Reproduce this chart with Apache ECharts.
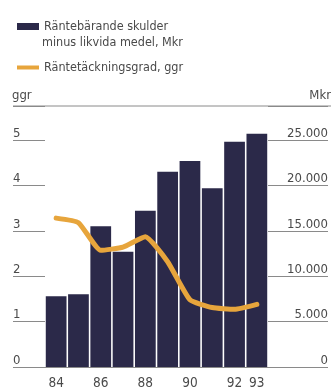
<!DOCTYPE html>
<html>
<head>
<meta charset="utf-8">
<script src="https://cdn.jsdelivr.net/npm/echarts@6/dist/echarts.min.js"></script>
<style>
  html, body { margin: 0; padding: 0; background: #ffffff; }
  #chart { width: 331px; height: 390px; }
</style>
</head>
<body>
<div id="chart"></div>
<script>
// Years on the category axis and the labels printed under them
var years = ['84', '85', '86', '87', '88', '89', '90', '91', '92', '93'];
var yearLabels = ['84', '', '86', '', '88', '', '90', '', '92', '93'];

// Net interest-bearing debt, Mkr (bars, right axis)
var nettoskuld = [7800, 8000, 15500, 12700, 17200, 21500, 22700, 19700, 24800, 25700];

// Interest coverage ratio, times (line, left axis)
var tackningsgrad = [3.28, 3.18, 2.57, 2.64, 2.87, 2.32, 1.48, 1.31, 1.27, 1.38];

// Axis tick values
var ggrTicks = [0, 1, 2, 3, 4, 5];
var mkrTicks = [0, 5000, 10000, 15000, 20000, 25000];

var barName = 'Räntebärande skulder';
var barNameLine2 = 'minus likvida medel, Mkr';
var lineName = 'Räntetäckningsgrad, ggr';

var FONT = "'DejaVu Sans Condensed', 'Liberation Sans Narrow', 'Roboto', sans-serif";
var TEXT = '#4a4a4a';
var RULE = '#8a8a8a';
var BAR = '#2b2949';
var LINE = '#e7a53c';

function thousands(v) {
  return String(v).replace(/\B(?=(\d{3})+(?!\d))/g, '.');
}

var chart = echarts.init(document.getElementById('chart'), null, { renderer: 'canvas' });

chart.setOption({
  backgroundColor: '#ffffff',
  animation: false,
  textStyle: { fontFamily: FONT },
  legend: {
    orient: 'vertical',
    left: 12,
    top: 15,
    itemWidth: 22,
    itemHeight: 7,
    itemGap: 28,
    symbolKeepAspect: true,
    selectedMode: false,
    textStyle: { fontFamily: FONT, fontSize: 12.5, color: TEXT },
    data: [
      { name: barName, icon: 'rect', itemStyle: { color: BAR } },
      { name: lineName, icon: 'path://M0,0 H22 V4 H0 Z', itemStyle: { color: LINE } }
    ]
  },
  graphic: [
    {
      type: 'text', left: 42, top: 36,
      style: { text: barNameLine2, font: '12.5px ' + FONT, fill: TEXT }
    },
    {
      type: 'text', left: 12, top: 89,
      style: { text: 'ggr', font: '13px ' + FONT, fill: TEXT }
    },
    {
      type: 'text', right: 0, top: 89,
      style: { text: 'Mkr', font: '13px ' + FONT, fill: TEXT }
    },
    {
      type: 'line',
      shape: { x1: 13, y1: 106, x2: 331, y2: 106 },
      style: { stroke: RULE, lineWidth: 1 }
    }
  ],
  grid: { left: 45, right: 60, top: 106, bottom: 23, containLabel: false },
  xAxis: {
    type: 'category',
    data: years,
    axisLine: { show: true, lineStyle: { color: RULE, width: 1 } },
    axisTick: { show: false },
    axisLabel: {
      margin: 9,
      fontSize: 13.5,
      color: TEXT,
      fontFamily: FONT,
      interval: 0,
      formatter: function (v, i) { return yearLabels[i]; }
    }
  },
  yAxis: [
    {
      type: 'value',
      position: 'left',
      min: ggrTicks[0],
      max: 5.75,
      interval: 1,
      splitLine: { show: false },
      axisLine: { show: false },
      axisTick: { show: true, length: 32, lineStyle: { color: RULE, width: 1 } },
      axisLabel: {
        margin: 32,
        align: 'left',
        verticalAlign: 'bottom',
        fontSize: 13,
        color: TEXT,
        fontFamily: FONT,
        formatter: function (v) { return ggrTicks.indexOf(v) >= 0 ? String(v) : ''; }
      }
    },
    {
      type: 'value',
      position: 'right',
      min: mkrTicks[0],
      max: 28750,
      interval: 5000,
      splitLine: { show: false },
      axisLine: { show: false },
      axisTick: { show: true, length: 60, lineStyle: { color: RULE, width: 1 } },
      axisLabel: {
        margin: 60,
        align: 'right',
        verticalAlign: 'bottom',
        fontSize: 13,
        color: TEXT,
        fontFamily: FONT,
        formatter: function (v) { return mkrTicks.indexOf(v) >= 0 ? thousands(v) : ''; }
      }
    }
  ],
  series: [
    {
      name: barName,
      type: 'bar',
      yAxisIndex: 1,
      data: nettoskuld,
      barCategoryGap: '7%',
      itemStyle: { color: BAR },
      z: 2
    },
    {
      name: lineName,
      type: 'line',
      yAxisIndex: 0,
      data: tackningsgrad,
      symbol: 'none',
      smooth: 0.15,
      lineStyle: { color: LINE, width: 5, cap: 'round', join: 'round' },
      itemStyle: { color: LINE },
      z: 3
    }
  ]
});
</script>
</body>
</html>
